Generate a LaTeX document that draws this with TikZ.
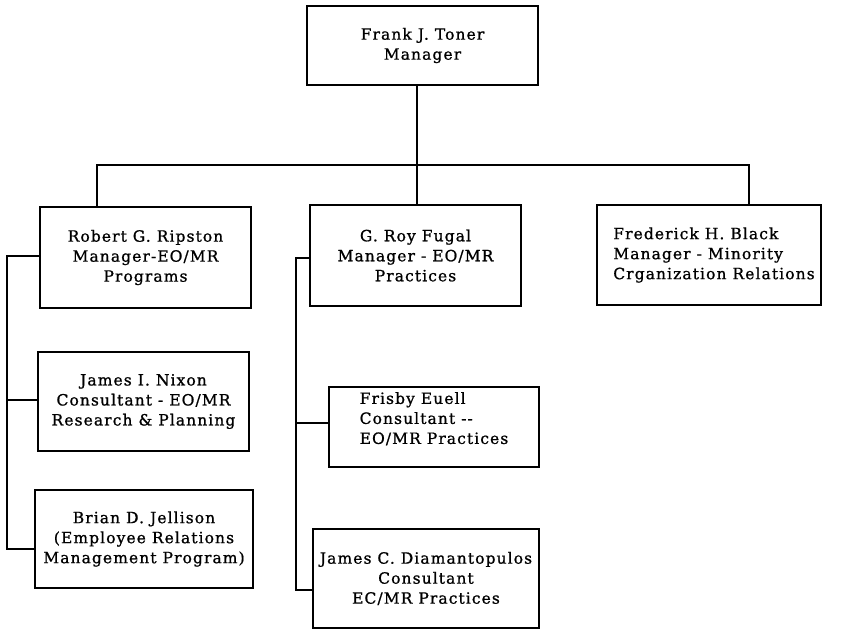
\documentclass[tikz,border=0pt]{standalone}
\usepackage{fontspec}
\setmainfont{DejaVu Serif}[LetterSpace=7,FakeBold=1]
\begin{document}
\begin{tikzpicture}[x=1pt,y=1pt,
  box/.style={draw,line width=1.2pt,inner sep=0pt,font=\fontsize{15.5}{20}\selectfont,align=center},
  conn/.style={line width=1.2pt}]
\useasboundingbox (0,0) rectangle (841,630);
\node[box,minimum width=231,minimum height=79] (top) at (422.5,584.5) {Frank J. Toner\\Manager};
\node[box,minimum width=211,minimum height=101] (ripston) at (145.5,372.5) {Robert G. Ripston\\Manager-EO/MR\\Programs};
\node[box,minimum width=211,minimum height=101] (fugal) at (415.5,374.5) {G. Roy Fugal\\Manager - EO/MR\\Practices};
\node[box,minimum width=224,minimum height=100,align=left] (black) at (709,375) {\hspace*{10pt}Frederick H. Black\\\hspace*{10pt}Manager - Minority\\\hspace*{10pt}Crganization Relations};
\node[box,minimum width=211,minimum height=99] (nixon) at (143.5,228.5) {James I. Nixon\\Consultant - EO/MR\\Research \& Planning};
\node[box,minimum width=218,minimum height=98] (jellison) at (144,91) {Brian D. Jellison\\(Employee Relations\\Management Program)};
\node[box,minimum width=210,minimum height=80,align=left] (euell) at (434,203) {Frisby Euell\\Consultant -{}-\\EO/MR Practices\\[-2pt]};
\node[box,minimum width=226,minimum height=99] (diam) at (426,51.5) {James C. Diamantopulos\\Consultant\\EC/MR Practices};
% bus coordinates
\coordinate (bt) at (417,465);
\coordinate (bl) at (97,465);
\coordinate (br) at (749,465);
\coordinate (lb1) at (7,374);
\coordinate (lb2) at (7,230);
\coordinate (lb3) at (7,81);
\coordinate (mb1) at (296,372);
\coordinate (mb2) at (296,207);
\coordinate (mb3) at (296,40);
\draw[conn] (top.south -| bt) -- (fugal.north -| bt);
\draw[conn] (ripston.north -| bl) -- (bl) -- (br) -- (black.north -| br);
\draw[conn] (ripston.west |- lb1) -- (lb1) -- (lb3) -- (jellison.west |- lb3);
\draw[conn] (lb2) -- (nixon.west |- lb2);
\draw[conn] (fugal.west |- mb1) -- (mb1) -- (mb3) -- (diam.west |- mb3);
\draw[conn] (mb2) -- (euell.west |- mb2);
\end{tikzpicture}
\end{document}
